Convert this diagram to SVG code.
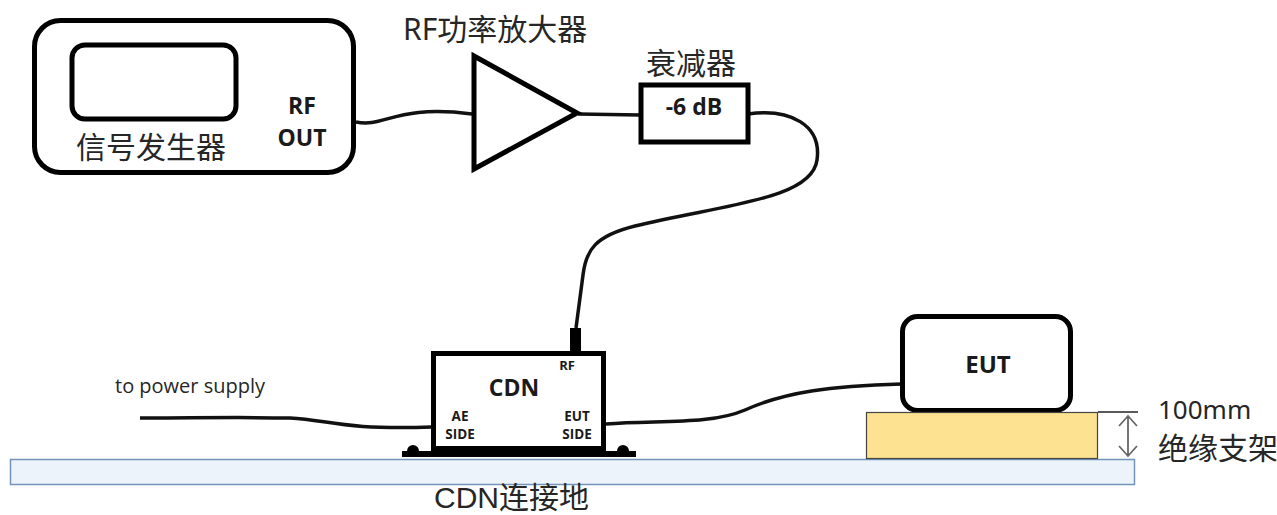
<svg xmlns="http://www.w3.org/2000/svg" width="1277" height="515" viewBox="0 0 1277 515">
<style>
text{font-family:"Open Sans","Noto Sans CJK SC",sans-serif;fill:#262626}
.cn{font-family:"Noto Sans","Noto Sans CJK SC",sans-serif;font-size:30px;fill:#262626}
.b{font-weight:700;fill:#1a1a1a}
.box{fill:#fff;stroke:#000;stroke-width:5}
.w{fill:none;stroke:#111;stroke-width:3.5}
</style>
<rect width="1277" height="515" fill="#fff"/>
<g id="ground"><rect x="10.500" y="459.500" width="1124" height="25" fill="#edf3fa" stroke="#7393b8" stroke-width="1.500"/><text x="434" y="508" font-size="30" style="font-family:'Liberation Sans','Noto Sans CJK SC',sans-serif">CDN连接地</text></g>
<g id="connectors">
<path class="w" d="M356 122C385 128 395 104 472 114"/>
<path class="w" d="M578 114L640 115"/>
<path class="w" d="M748 114C790 108 822 125 817 160C812 200 720 205 635 226C595 236 586 250 583 275L576 328"/>
<path d="M570 328h11v25h-11z" fill="#000"/>
<path class="w" d="M140 418C190 418 240 417 290 418C330 420 340 430 432 427"/>
<path class="w" d="M606 424C660 420 710 425 745 410C785 392 830 386 902 384"/>
</g>
<g id="signal-generator"><rect class="box" x="34.500" y="20.500" width="319" height="152" rx="26"/><rect class="box" x="72" y="45" width="164" height="74" rx="13"/><text class="cn" x="76" y="158">信号发生器</text><text class="b" x="302" y="114" text-anchor="middle" font-size="23">RF</text><text class="b" x="302" y="146" text-anchor="middle" font-size="23">OUT</text></g>
<g id="amplifier"><path d="M474 56L577 113L474 169Z" class="box"/><text class="cn" x="403" y="40">RF功率放大器</text></g>
<g id="attenuator"><rect class="box" x="641" y="85" width="107" height="57"/><text class="b" x="694" y="115" text-anchor="middle" font-size="23">-6 dB</text><text class="cn" x="646" y="74">衰减器</text></g>
<g id="cdn">
<path d="M402 451h234v6H402z" fill="#000"/><circle cx="413" cy="451" r="6" fill="#000"/><circle cx="623" cy="451" r="6" fill="#000"/>
<rect class="box" x="433.500" y="353.500" width="170" height="99"/><rect x="433" y="446" width="172" height="11" fill="#000"/>
<text class="b" x="514" y="396" text-anchor="middle" font-size="23">CDN</text><text class="b" x="567" y="370" text-anchor="middle" font-size="13">RF</text>
<text class="b" x="460" y="421" text-anchor="middle" font-size="13.500">AE</text><text class="b" x="460" y="439" text-anchor="middle" font-size="13.500">SIDE</text>
<text class="b" x="577" y="421" text-anchor="middle" font-size="13.500">EUT</text><text class="b" x="577" y="439" text-anchor="middle" font-size="13.500">SIDE</text>
</g>
<g id="power-label"><text x="115" y="393" font-size="20">to power supply</text></g>
<g id="eut"><rect class="box" x="902.500" y="316.500" width="168" height="94" rx="15"/><text class="b" x="988" y="373" text-anchor="middle" font-size="24">EUT</text></g>
<g id="support"><rect x="866.500" y="412.500" width="231" height="46" fill="#fde291" stroke="#444" stroke-width="1.200"/><path d="M1098 412h40" stroke="#222" stroke-width="1.300"/><path d="M1128 416V456M1119 426L1128 416L1137 426M1119 446L1128 456L1137 446" fill="none" stroke="#666" stroke-width="1.800"/><text class="cn" x="1158" y="419" style="font-size:26px">100mm</text><text class="cn" x="1158" y="459">绝缘支架</text></g>
</svg>
